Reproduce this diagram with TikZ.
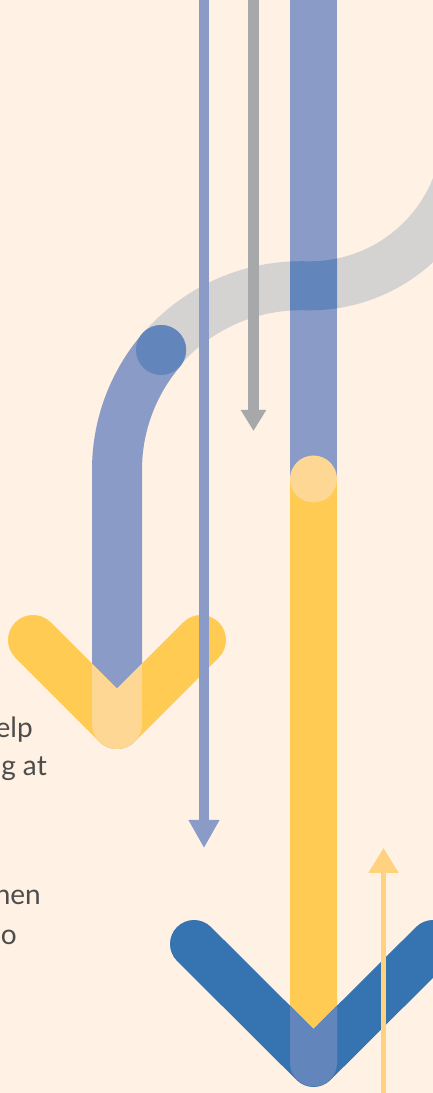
\documentclass[tikz,border=0pt]{standalone}
\usepackage{fontspec}
\setmainfont{Lato}
\usetikzlibrary{arrows.meta}
\definecolor{bgcream}{HTML}{FFF1E3}
\definecolor{lavender}{HTML}{8A9BC7}
\definecolor{midblue}{HTML}{6285BC}
\definecolor{deepblue}{HTML}{3574B0}
\definecolor{sunyellow}{HTML}{FFCB52}
\definecolor{paleyellow}{HTML}{FFD794}
\definecolor{arrowgray}{HTML}{A7A8AA}
\definecolor{curvegray}{HTML}{D4D3D2}
\definecolor{textgray}{HTML}{4D4D4D}
\definecolor{thinyellow}{HTML}{FFD27F}
\tikzset{
  band/.style={line width=#1, line join=round},
  graycurve/.style={insert path={(161,743) arc[start angle=139.4, end angle=90, radius=184]
      -- (310,807.2) arc[start angle=-90, end angle=-10, radius=157]}},
  smallvee/.style={insert path={(33,453) -- (117,369) -- (201,453)}},
  bigvee/.style={insert path={(194,149) -- (313.5,30) -- (433,149)}},
  txt/.style={font=\fontsize{28}{33}\selectfont, text=textgray, inner sep=0pt, anchor=base east}
}
\begin{document}
\begin{tikzpicture}[x=1pt, y=1pt]
    \clip (0,0) rectangle (433,1093);
    \fill[bgcream] (0,0) rectangle (433,1093);

    % gray curve and lavender bend
    \draw[curvegray, band=49pt, graycurve];
    \draw[lavender, band=50pt, line cap=round] (117,369) -- (117,623.2)
        arc[start angle=180, end angle=139.4, radius=184];

    % small chevron
    \draw[sunyellow, band=50pt, line cap=round, smallvee];
    \begin{scope}
        \clip (92,490) -- (92,369) arc[start angle=180, end angle=360, radius=25] -- (142,490) -- cycle;
        \draw[paleyellow, band=50pt, line cap=round, smallvee];
    \end{scope}

    % main bar
    \draw[lavender, line width=47pt] (313.5,1100) -- (313.5,614);
    \begin{scope}
        \clip (290,614) rectangle (337,1100);
        \draw[midblue, band=49pt, graycurve];
    \end{scope}
    \draw[sunyellow, line width=47pt] (313.5,614) -- (313.5,30);
    \fill[paleyellow] (313.5,614) circle[radius=23.5];

    % big chevron
    \draw[deepblue, band=48pt, line cap=round, bigvee];
    \begin{scope}
        \clip (290,130) -- (290,30) arc[start angle=180, end angle=360, radius=23.5] -- (337,130) -- cycle;
        \draw[midblue, band=48pt, line cap=round, bigvee];
    \end{scope}

    % arrows
    \draw[lavender, line width=10pt, -{Triangle[width=29pt, length=28pt]}] (204,1100) -- (204,245);
    \draw[arrowgray, line width=11pt, -{Triangle[width=24pt, length=21pt]}] (253.5,1100) -- (253.5,662);
    \draw[thinyellow, line width=5pt, -{Triangle[width=29pt, length=25pt]}] (383.5,-5) -- (383.5,245);

    % joint
    \fill[midblue] (161,743) circle[radius=25];

    % text
    \node[txt] (lineA) at (33,355) {elp};
    \node[txt] (lineB) at (47,317) {g at};
    \node[txt] (lineC) at (41,188) {hen};
    \node[txt] (lineD) at (17,148) {o};
\end{tikzpicture}
\end{document}
